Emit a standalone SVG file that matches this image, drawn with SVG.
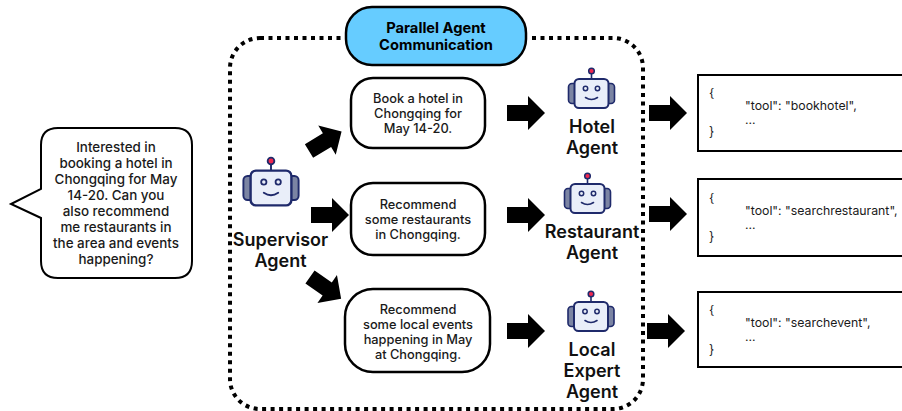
<svg xmlns="http://www.w3.org/2000/svg" width="902" height="411" viewBox="0 0 902 411">
<style>
text{font-family:Inter,"Liberation Sans",sans-serif;fill:#1a1a1a;text-anchor:middle}
.t{font-size:12.800px;font-weight:500}
.u{font-size:13.400px;font-weight:500}
.a{font-size:18px;font-weight:600;fill:#111}
.p{font-size:14.700px;font-weight:700;fill:#000}
.j{font-size:12.300px;text-anchor:start}
.box{fill:#fff;stroke:#000;stroke-width:2.500}
.code{fill:#fff;stroke:#000;stroke-width:2}
</style>
<defs>
<polygon id="arrow" points="0,-8 21,-8 21,-17 38,0 21,17 21,8 0,8" fill="#000"/>
<g id="robot">
<rect x="-23" y="-10" width="10" height="20" rx="3.500" fill="#7b84a3" stroke="#1f2a6b" stroke-width="1.600"/>
<rect x="13" y="-10" width="10" height="20" rx="3.500" fill="#7b84a3" stroke="#1f2a6b" stroke-width="1.600"/>
<line x1="0" y1="-15" x2="0" y2="-21" stroke="#1f2a6b" stroke-width="1.600"/>
<circle cx="0" cy="-22.500" r="2.800" fill="#f0284f" stroke="#1f2a6b" stroke-width="1.500"/>
<rect x="-17" y="-14.500" width="34" height="29" rx="4.500" fill="#e9eef9" stroke="#1f2a6b" stroke-width="2"/>
<circle cx="-6" cy="-5" r="2.200" fill="#e9eef9" stroke="#1f2a6b" stroke-width="1.500"/>
<circle cx="6" cy="-5" r="2.200" fill="#e9eef9" stroke="#1f2a6b" stroke-width="1.500"/>
<path d="M-6,4 Q0,8 6,4" fill="none" stroke="#1f2a6b" stroke-width="1.600" stroke-linecap="round"/>
</g>
</defs>
<rect width="902" height="411" fill="#fff"/>
<g id="connectors">
<use href="#arrow" transform="translate(309,151) rotate(-31)"/>
<use href="#arrow" transform="translate(311,215)"/>
<use href="#arrow" transform="translate(310,277) rotate(35)"/>
<use href="#arrow" transform="translate(507,113)"/>
<use href="#arrow" transform="translate(507,215)"/>
<use href="#arrow" transform="translate(507,331)"/>
<use href="#arrow" transform="translate(649,113)"/>
<use href="#arrow" transform="translate(649,214)"/>
<use href="#arrow" transform="translate(647,331)"/>
</g>
<g id="frame">
<rect x="230" y="38" width="413" height="371" rx="30" fill="none" stroke="#000" stroke-width="4" stroke-dasharray="4 4.500"/>
</g>
<g id="parallel-label">
<rect x="346" y="7" width="180" height="58" rx="26" fill="#66ccff" stroke="#fff" stroke-width="8"/>
<rect x="346" y="7" width="180" height="58" rx="26" fill="#66ccff" stroke="#000" stroke-width="2.500"/>
<text class="p" x="436" y="33">Parallel Agent</text>
<text class="p" x="436" y="50">Communication</text>
</g>
<g id="user-message">
<path d="M58,128 H175 Q192,128 192,145 V261 Q192,278 175,278 H58 Q41,278 41,261 V218 L11,204 L41,189 V145 Q41,128 58,128 Z" fill="#fff" stroke="#000" stroke-width="2"/>
<text class="u" x="116" y="152">Interested in</text>
<text class="u" x="116" y="168">booking a hotel in</text>
<text class="u" x="116" y="184">Chongqing for May</text>
<text class="u" x="116" y="200">14-20. Can you</text>
<text class="u" x="116" y="216">also recommend</text>
<text class="u" x="116" y="232">me restaurants in</text>
<text class="u" x="116" y="248">the area and events</text>
<text class="u" x="116" y="264">happening?</text>
</g>
<g id="supervisor-agent">
<use href="#robot" transform="translate(271,188) scale(1.2)"/>
<text class="a" x="280.500" y="246">Supervisor</text>
<text class="a" x="280.500" y="267">Agent</text>
</g>
<g id="task-hotel">
<rect class="box" x="351" y="78" width="134" height="70" rx="22"/>
<text class="t" x="418" y="103">Book a hotel in</text>
<text class="t" x="418" y="118">Chongqing for</text>
<text class="t" x="418" y="133">May 14-20.</text>
</g>
<g id="task-restaurant">
<rect class="box" x="351" y="183" width="134" height="72" rx="22"/>
<text class="t" x="418" y="209">Recommend</text>
<text class="t" x="418" y="224">some restaurants</text>
<text class="t" x="418" y="239">in Chongqing.</text>
</g>
<g id="task-events">
<rect class="box" x="345" y="289" width="145" height="83" rx="28"/>
<text class="t" x="418" y="314">Recommend</text>
<text class="t" x="418" y="329">some local events</text>
<text class="t" x="418" y="344">happening in May</text>
<text class="t" x="418" y="359">at Chongqing.</text>
</g>
<g id="hotel-agent">
<use href="#robot" transform="translate(591.500,93.500)"/>
<text class="a" x="592" y="133">Hotel</text>
<text class="a" x="592" y="154">Agent</text>
</g>
<g id="restaurant-agent">
<use href="#robot" transform="translate(587.500,198.500)"/>
<text class="a" x="592" y="238">Restaurant</text>
<text class="a" x="592" y="259">Agent</text>
</g>
<g id="local-expert-agent">
<use href="#robot" transform="translate(591,316.500)"/>
<text class="a" x="592" y="356">Local</text>
<text class="a" x="592" y="377">Expert</text>
<text class="a" x="592" y="398">Agent</text>
</g>
<g id="call-hotel">
<rect class="code" x="698" y="75" width="210" height="76"/>
<text class="j" x="709" y="97">{</text>
<text class="j" x="745" y="110">"tool": "bookhotel",</text>
<text class="j" x="745" y="124">...</text>
<text class="j" x="709" y="136">}</text>
</g>
<g id="call-restaurant">
<rect class="code" x="698" y="179" width="210" height="77"/>
<text class="j" x="709" y="202">{</text>
<text class="j" x="745" y="215">"tool": "searchrestaurant",</text>
<text class="j" x="745" y="229">...</text>
<text class="j" x="709" y="241">}</text>
</g>
<g id="call-event">
<rect class="code" x="698" y="292" width="210" height="75"/>
<text class="j" x="709" y="314">{</text>
<text class="j" x="745" y="327">"tool": "searchevent",</text>
<text class="j" x="745" y="341">...</text>
<text class="j" x="709" y="354">}</text>
</g>
</svg>
